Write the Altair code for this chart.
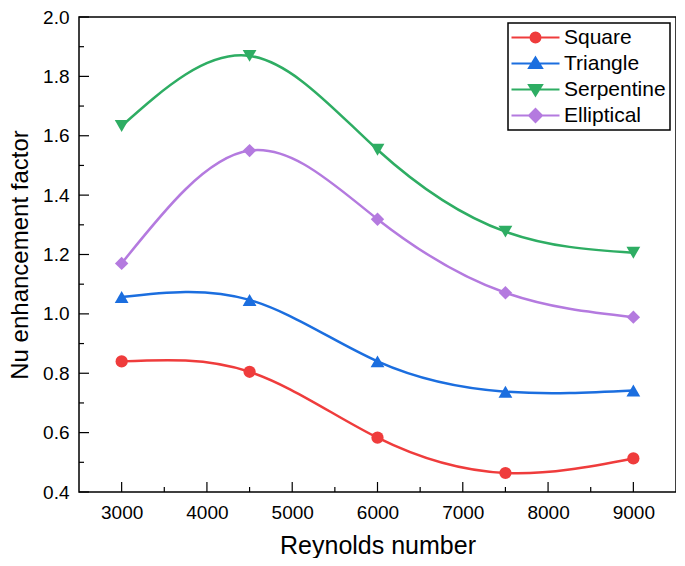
import altair as alt
import pandas as pd

reynolds = [3000, 4500, 6000, 7500, 9000]
square = [0.840, 0.805, 0.583, 0.464, 0.513]
triangle = [1.057, 1.047, 0.840, 0.738, 0.742]
serpentine = [1.633, 1.869, 1.553, 1.277, 1.206]
elliptical = [1.170, 1.550, 1.319, 1.071, 0.989]

series_names = ["Square", "Triangle", "Serpentine", "Elliptical"]
series_colors = ["#EF3C3C", "#1B6EDF", "#2EAD63", "#B47ADF"]
marker_shapes = ["circle", "triangle-up", "triangle-down", "diamond"]
marker_sizes = [150, 190, 190, 180]
legend_paths = [
    "M-4.8,0H4.8M-1,0A1,1 0 1,0 1,0A1,1 0 1,0 -1,0Z",
    "M-4.8,0H4.8M0,-1.2L1.3,0.9L-1.3,0.9Z",
    "M-4.8,0H4.8M0,1.2L1.3,-0.9L-1.3,-0.9Z",
    "M-4.8,0H4.8M0,-1.3L1.3,0L0,1.3L-1.3,0Z",
]

x_major = [3000, 4000, 5000, 6000, 7000, 8000, 9000]
x_minor = [3500, 4500, 5500, 6500, 7500, 8500]
y_major = [0.4, 0.6, 0.8, 1.0, 1.2, 1.4, 1.6, 1.8, 2.0]
y_minor = [0.5, 0.7, 0.9, 1.1, 1.3, 1.5, 1.7, 1.9]

rows = []
for name, vals in zip(series_names, [square, triangle, serpentine, elliptical]):
    for r, v in zip(reynolds, vals):
        rows.append({"series": name, "Re": r, "Nu": v})
df = pd.DataFrame(rows)

W, H = 597, 475
FONT = "Liberation Sans"

x_scale = alt.Scale(domain=[2500, 9500], nice=False, zero=False)
y_scale = alt.Scale(domain=[0.4, 2.0], nice=False, zero=False)

x_axis = alt.Axis(values=x_major, format="d", title="Reynolds number", grid=False,
                  ticks=False, tickSize=0, domain=False, labelFontSize=19, titleFontSize=25,
                  labelPadding=11, titlePadding=11, labelColor="black", titleColor="black",
                  titleFontWeight="normal", labelFlush=False, labelFont=FONT, titleFont=FONT)
y_axis = alt.Axis(values=y_major, format=".1f", title="Nu enhancement factor", grid=False,
                  ticks=False, tickSize=0, domain=False, labelFontSize=19, titleFontSize=24,
                  labelPadding=10, titlePadding=10, labelColor="black", titleColor="black",
                  titleFontWeight="normal", labelFlush=False, labelFont=FONT, titleFont=FONT)

xmaj = alt.Chart(pd.DataFrame({"Re": x_major})).mark_rule(color="black", strokeWidth=1.2).encode(
    x=alt.X("Re:Q", scale=x_scale, axis=x_axis), y=alt.value(H), y2=alt.value(H - 10))
xmin = alt.Chart(pd.DataFrame({"Re": x_minor})).mark_rule(color="black", strokeWidth=1.2).encode(
    x=alt.X("Re:Q", scale=x_scale), y=alt.value(H), y2=alt.value(H - 5))
ymaj = alt.Chart(pd.DataFrame({"Nu": y_major})).mark_rule(color="black", strokeWidth=1.2).encode(
    y=alt.Y("Nu:Q", scale=y_scale, axis=y_axis), x=alt.value(0), x2=alt.value(10))
ymin = alt.Chart(pd.DataFrame({"Nu": y_minor})).mark_rule(color="black", strokeWidth=1.2).encode(
    y=alt.Y("Nu:Q", scale=y_scale), x=alt.value(0), x2=alt.value(5))

series_layers = []
for name, col, shp, sz in zip(series_names, series_colors, marker_shapes, marker_sizes):
    base = alt.Chart(df).transform_filter(alt.datum.series == name)
    series_layers.append(
        base.mark_line(interpolate="natural", strokeWidth=2.5, color=col).encode(
            x=alt.X("Re:Q", scale=x_scale),
            y=alt.Y("Nu:Q", scale=y_scale),
        )
    )
    series_layers.append(
        base.mark_point(filled=True, opacity=1, size=sz, shape=shp, color=col).encode(
            x=alt.X("Re:Q", scale=x_scale),
            y=alt.Y("Nu:Q", scale=y_scale),
        )
    )

leg_def = alt.Legend(title=None, orient="top-right", offset=6, symbolSize=100,
                     symbolStrokeWidth=2, symbolOffset=13, labelOffset=18,
                     labelFontSize=21, labelFont=FONT, labelColor="black", padding=4,
                     rowPadding=4, strokeColor="black", symbolOpacity=1)

fill_scale = alt.Scale(domain=series_names, range=series_colors)
legend_layer = alt.Chart(df).transform_filter("false").transform_calculate(
    lg="datum.series").mark_point(filled=True, strokeWidth=2).encode(
    x=alt.X("Re:Q", scale=x_scale),
    y=alt.Y("Nu:Q", scale=y_scale),
    fill=alt.Fill("lg:N", scale=fill_scale, legend=leg_def),
    stroke=alt.Stroke("lg:N", scale=fill_scale, legend=leg_def),
    shape=alt.Shape("lg:N", scale=alt.Scale(domain=series_names, range=legend_paths), legend=leg_def),
)

chart = alt.layer(xmaj, xmin, ymaj, ymin, *series_layers, legend_layer).properties(
    width=W, height=H, padding=0
).configure_view(
    stroke="black", strokeWidth=1.5
).configure_legend(strokeWidth=1.5)

chart.save("out.html", embed_options={"renderer": "svg", "actions": False})
